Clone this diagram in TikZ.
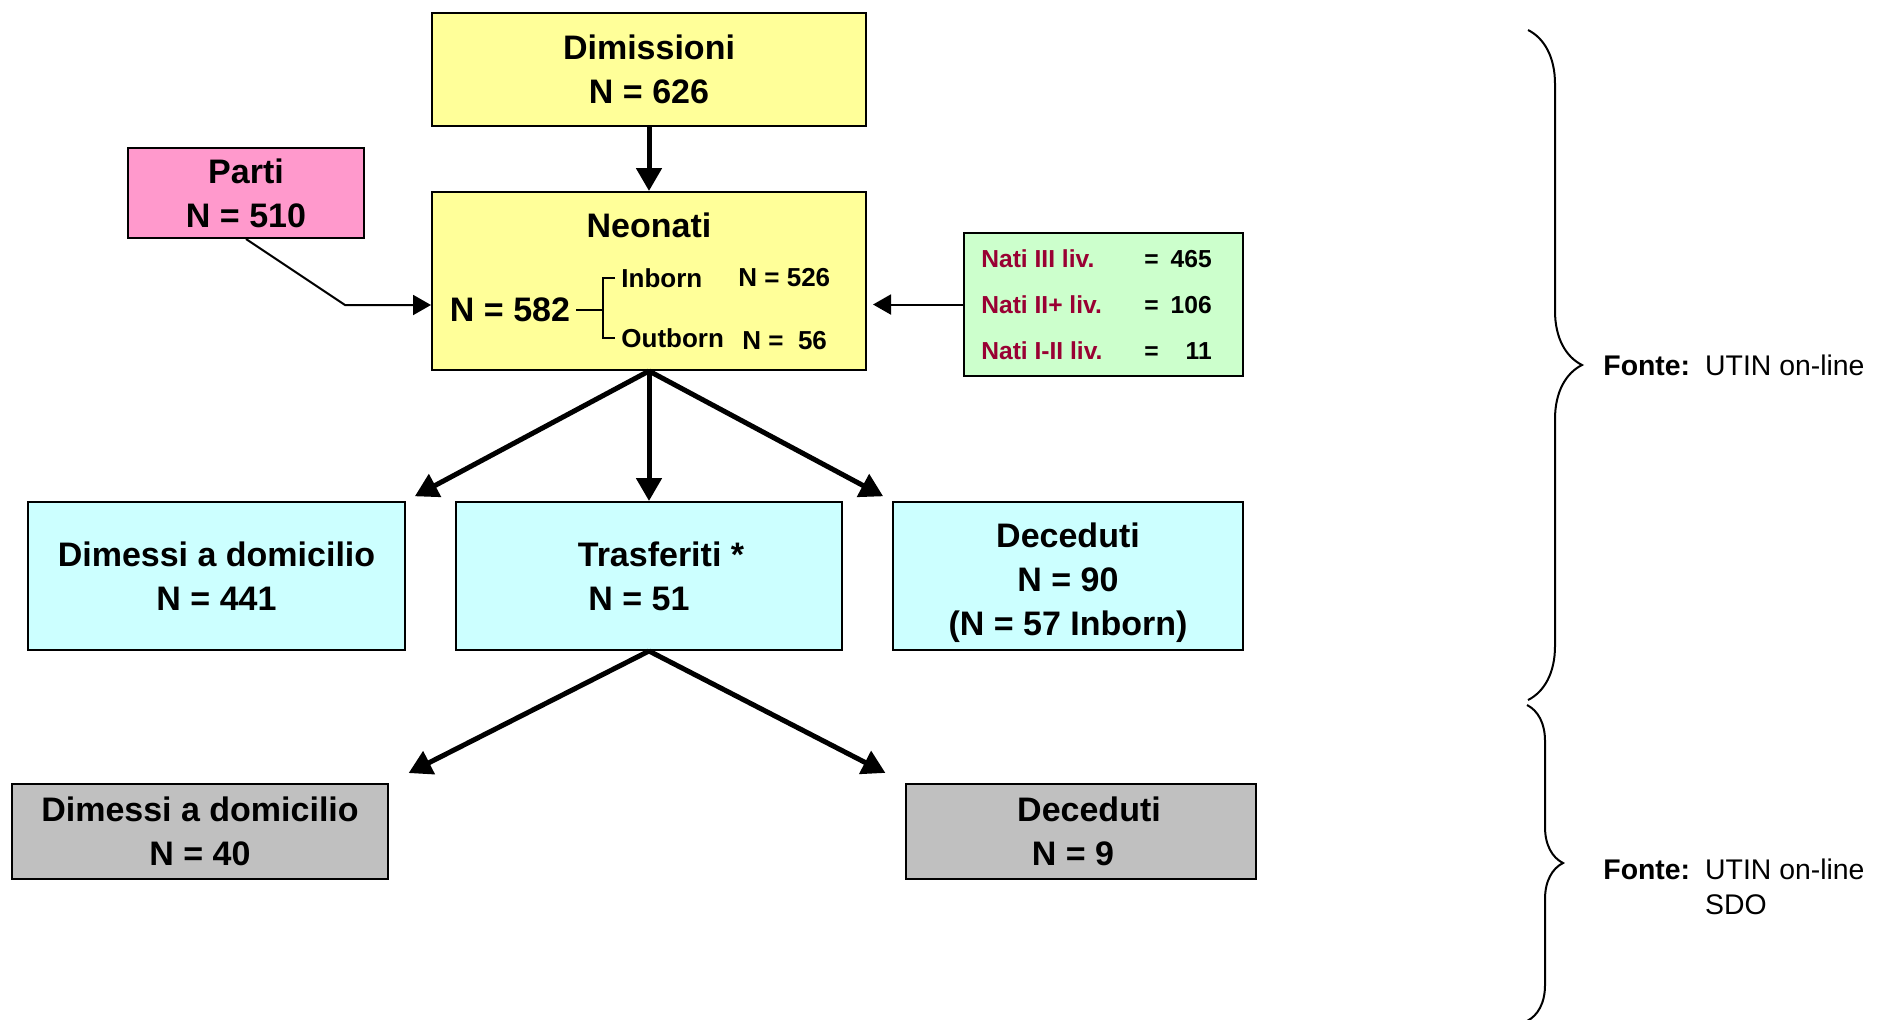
\documentclass[tikz,border=0pt]{standalone}
\usepackage{fontspec}
\setmainfont{Liberation Sans}
\usetikzlibrary{arrows.meta,decorations.pathreplacing}

\definecolor{giallo}{HTML}{FFFF99}
\definecolor{rosa}{HTML}{FF99CC}
\definecolor{verde}{HTML}{CCFFCC}
\definecolor{azzurro}{HTML}{CCFFFF}
\definecolor{grigio}{HTML}{C0C0C0}
\definecolor{bordeaux}{HTML}{990033}

\begin{document}
\begin{tikzpicture}[x=0.5pt,y=-0.5pt,
    box/.style={draw,line width=1pt,inner sep=0pt,align=center,font=\fontsize{17}{22}\selectfont\bfseries},
    txt/.style={inner sep=3pt,font=\fontsize{13}{16}\selectfont\bfseries},
    freccia/.style={line width=2.5pt,-{Triangle[length=11.5pt,width=12.5pt]}},
    frecciina/.style={line width=1pt,-{Triangle[length=9pt,width=10pt]}},
    graffa/.style={line width=1pt,decorate,decoration={brace,amplitude=#1}}]
    \useasboundingbox (0,0) rectangle (1877,1019);

    \node[box,fill=giallo,minimum width=217pt,minimum height=56.5pt] (dimiss) at (649,69.5) {Dimissioni\\N = 626};
    \node[box,fill=rosa,minimum width=118pt,minimum height=45pt] (parti) at (246,193) {Parti\\N = 510};
    \node[box,fill=giallo,minimum width=217pt,minimum height=89pt] (neonati) at (649,281) {};
    \node[box,fill=verde,minimum width=139.5pt,minimum height=71.5pt,font=\fontsize{12.3}{23}\selectfont\bfseries] (nati) at (1103.5,304.5)
        {\begin{tabular}{@{}l@{}l@{\hspace{6pt}}r@{}}
          \makebox[81.5pt][l]{\color{bordeaux}Nati III liv.} & = & 465\\
          \makebox[81.5pt][l]{\color{bordeaux}Nati II+ liv.} & = & 106\\
          \makebox[81.5pt][l]{\color{bordeaux}Nati I-II liv.} & = & 11
         \end{tabular}\hspace*{7pt}};

    % contenuto neonati
    \node[txt,font=\fontsize{17}{22}\selectfont\bfseries] (titneo) at (649,225) {Neonati};
    \node[txt,font=\fontsize{17}{22}\selectfont\bfseries] (n582) at (510,310) {N = 582};
    \node[txt,anchor=west] (inborn) at (615,278) {Inborn};
    \node[txt,anchor=west] (n526) at (732,278) {N = 526};
    \node[txt,anchor=west] (outborn) at (615,338) {Outborn};
    \node[txt,anchor=west] (n56) at (736,341) {N = \ 56};
    \draw[line width=1pt] (n582.east) -- ++(27,0) coordinate (brk);
    \draw[line width=1pt] (inborn.west) -| (brk) |- (outborn.west);

    \node[box,fill=azzurro,minimum width=188.5pt,minimum height=74pt] (dimessi) at (216.5,576) {Dimessi a domicilio\\N = 441};
    \node[box,fill=azzurro,minimum width=193pt,minimum height=74pt] (trasf) at (649,576) {\hspace*{12pt}Trasferiti *\\N = 51\hspace*{10pt}};
    \node[box,fill=azzurro,minimum width=175pt,minimum height=74pt] (deced) at (1068,576) {\rule{0pt}{19.5pt}Deceduti\\N = 90\\(N = 57 Inborn)};
    \node[box,fill=grigio,minimum width=188pt,minimum height=47.5pt] (dimessib) at (200,831.5) {Dimessi a domicilio\\N = 40};
    \node[box,fill=grigio,minimum width=175pt,minimum height=47.5pt] (decedb) at (1081,831.5) {\hspace*{8pt}Deceduti\\N = 9\hspace*{8pt}};

    \draw[freccia] (dimiss.south) -- (neonati.north);
    \draw[freccia,shorten >=5pt] (neonati.south) -- (dimessi.north east);
    \draw[freccia] (neonati.south) -- (trasf.north);
    \draw[freccia,shorten >=5pt] (neonati.south) -- (deced.north west);
    \draw[freccia,shorten >=11pt] (trasf.south) -- (dimessib.north east);
    \draw[freccia,shorten >=11pt] (trasf.south) -- (decedb.north west);

    \coordinate (pbend) at (345,305);
    \draw[frecciina] (parti.south) -- (pbend) -- (pbend -| neonati.west);
    \draw[frecciina,shorten >=3pt] (nati.west) -- (nati.west -| neonati.east);

    % fonti
    \draw[graffa=27pt] (1528,30) -- (1528,700);
    \draw[graffa=18pt] (1527,705) -- (1527,1021);
    \node[anchor=west,inner sep=0pt,font=\fontsize{14.2}{17.5}\selectfont] (fonte1) at (1603,368)
        {\begin{tabular}{@{}l@{\hspace{7.5pt}}l@{}}\textbf{Fonte:} & UTIN on-line\end{tabular}};
    \node[anchor=west,inner sep=0pt,font=\fontsize{14.2}{17.5}\selectfont] (fonte2) at (1603,889.5)
        {\begin{tabular}{@{}l@{\hspace{7.5pt}}l@{}}\textbf{Fonte:} & UTIN on-line\\ & SDO\end{tabular}};
\end{tikzpicture}
\end{document}
